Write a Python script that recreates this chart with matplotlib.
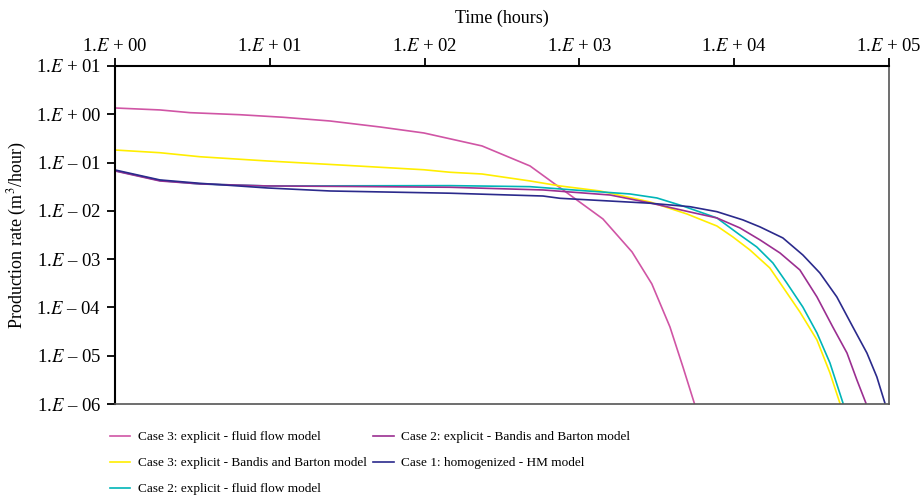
import numpy as np
import matplotlib
matplotlib.use('Agg')
import matplotlib.pyplot as plt

plt.rcParams['font.family'] = ['Liberation Serif', 'DejaVu Serif']
plt.rcParams['mathtext.fontset'] = 'stix'

# Case 3: explicit - fluid flow model
t_c3_fluid = [1, 1.95, 3.05, 6.4, 12.2, 24.5, 51.5, 99, 235, 480, 785, 1420, 2190, 2940, 3850, 4670, 5580]
q_c3_fluid = [1.35, 1.23, 1.08, 0.98, 0.867, 0.726, 0.546, 0.41, 0.221, 0.0851, 0.0271,
              6.8e-3, 1.41e-3, 3.07e-4, 3.94e-5, 5.86e-6, 9.5e-7]

# Case 3: explicit - Bandis and Barton model
t_c3_bb = [1, 1.95, 3.54, 9.6, 28.4, 99, 146, 235, 480, 750, 1360, 2860, 4950, 7740, 9820,
           12650, 17000, 20650, 26600, 34300, 41600, 48200]
q_c3_bb = [0.182, 0.160, 0.132, 0.108, 0.0891, 0.071, 0.063, 0.058, 0.0416, 0.0328, 0.0258,
           0.0153, 8.63e-3, 4.86e-3, 2.88e-3, 1.55e-3, 6.58e-4, 2.65e-4, 8.07e-5, 2.12e-5,
           4.41e-6, 1.05e-6]

# Case 2: explicit - fluid flow model
t_c2_fluid = [1, 1.95, 3.54, 9.6, 28.4, 146, 480, 1055, 2120, 3170, 4670, 7740, 10900, 14000,
              17800, 21900, 27800, 34300, 41600, 50500]
q_c2_fluid = [0.068, 0.0425, 0.036, 0.0328, 0.033, 0.0333, 0.0317, 0.0262, 0.0224, 0.0185,
              0.0126, 7.13e-3, 3.17e-3, 1.79e-3, 8.34e-4, 3.21e-4, 1.02e-4, 2.96e-5, 7.1e-6, 1.05e-6]

# Case 2: explicit - Bandis and Barton model
t_c2_bb = [1, 1.95, 3.54, 9.6, 33, 146, 582, 1580, 2860, 5180, 7740, 10900, 14700, 19800,
           26600, 34300, 43400, 53600, 62100, 71000]
q_c2_bb = [0.067, 0.0416, 0.0361, 0.0328, 0.032, 0.0308, 0.0271, 0.0213, 0.0146, 9.48e-3,
           7.13e-3, 4.43e-3, 2.5e-3, 1.34e-3, 5.97e-4, 1.65e-4, 3.94e-5, 1.14e-5, 3.16e-6, 1.05e-6]

# Case 1: homogenized - HM model
t_c1_hm = [1, 1.95, 3.54, 9.6, 24.5, 146, 582, 750, 2860, 5180, 7740, 11400, 14700, 20650,
           27800, 35800, 46100, 58500, 72100, 83600, 94200]
q_c1_hm = [0.0703, 0.0437, 0.0372, 0.0298, 0.0258, 0.0232, 0.0203, 0.0182, 0.0144, 0.0122,
           9.62e-3, 6.49e-3, 4.65e-3, 2.75e-3, 1.22e-3, 5.18e-4, 1.65e-4, 3.94e-5, 1.14e-5,
           3.64e-6, 1.05e-6]

x_ticks = [1e0, 1e1, 1e2, 1e3, 1e4, 1e5]
x_tick_labels = [r'1.$\mathit{E}$ + 00', r'1.$\mathit{E}$ + 01', r'1.$\mathit{E}$ + 02',
                 r'1.$\mathit{E}$ + 03', r'1.$\mathit{E}$ + 04', r'1.$\mathit{E}$ + 05']
y_ticks = [1e1, 1e0, 1e-1, 1e-2, 1e-3, 1e-4, 1e-5, 1e-6]
y_tick_labels = [r'1.$\mathit{E}$ + 01', r'1.$\mathit{E}$ + 00', r'1.$\mathit{E}$ – 01',
                 r'1.$\mathit{E}$ – 02', r'1.$\mathit{E}$ – 03', r'1.$\mathit{E}$ – 04',
                 r'1.$\mathit{E}$ – 05', r'1.$\mathit{E}$ – 06']

fig = plt.figure(figsize=(9.24, 5.03), dpi=100)
ax = fig.add_axes([0.1245, 0.1968, 0.8375, 0.672])

ax.plot(t_c3_fluid, q_c3_fluid, color='#d055a5', lw=1.2, label='Case 3: explicit - fluid flow model')
ax.plot(t_c3_bb, q_c3_bb, color='#ffee00', lw=1.2, label='Case 3: explicit - Bandis and Barton model')
ax.plot(t_c2_fluid, q_c2_fluid, color='#00b5b8', lw=1.2, label='Case 2: explicit - fluid flow model')
ax.plot(t_c2_bb, q_c2_bb, color='#9b2f91', lw=1.2, label='Case 2: explicit - Bandis and Barton model')
ax.plot(t_c1_hm, q_c1_hm, color='#2b2a8c', lw=1.2, label='Case 1: homogenized - HM model')

ax.set_xscale('log')
ax.set_yscale('log')
ax.set_xlim(1, 1e5)
ax.set_ylim(1e-6, 10)

ax.xaxis.set_ticks_position('top')
ax.xaxis.set_label_position('top')
ax.set_xticks(x_ticks)
ax.set_xticklabels(x_tick_labels)
ax.set_yticks(y_ticks)
ax.set_yticklabels(y_tick_labels)
ax.minorticks_off()
ax.tick_params(axis='both', direction='out', length=6, width=1.3, labelsize=13.5, pad=4)
ax.tick_params(axis='x', pad=2)

for s in ['left', 'top']:
    ax.spines[s].set_linewidth(1.5)
    ax.spines[s].set_color('black')
for s in ['right', 'bottom']:
    ax.spines[s].set_linewidth(1.2)
    ax.spines[s].set_color('#555555')

ax.set_xlabel('Time (hours)', fontsize=13, labelpad=11)
ax.set_ylabel(r'Production rate (m$^3$/hour)', fontsize=13, labelpad=5)

leg = ax.legend(loc='upper left', bbox_to_anchor=(110 / 924, 1 - 431 / 503),
                bbox_transform=fig.transFigure, ncol=2, frameon=False,
                fontsize=9.5, handlelength=1.55, handletextpad=0.55, columnspacing=0.5,
                labelspacing=1.05, borderpad=0, borderaxespad=0)

fig.savefig('out.png', dpi=100)
